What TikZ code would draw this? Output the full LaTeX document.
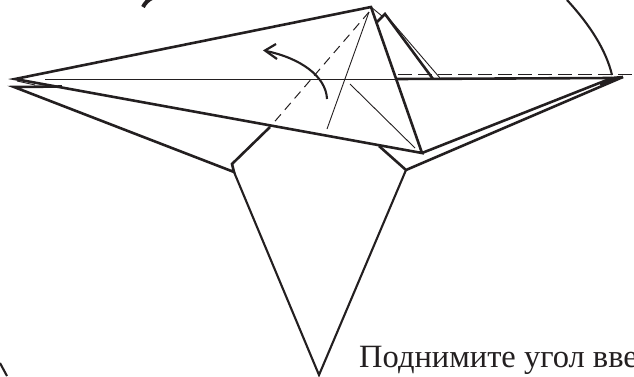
\documentclass[tikz,border=0pt]{standalone}
\usepackage{fontspec}
\setmainfont{Liberation Serif}
\definecolor{ink}{HTML}{231F20}
\tikzset{
  thick line/.style={draw=ink,line width=2.6pt,line join=miter,line cap=butt},
  mid line/.style={draw=ink,line width=2.1pt},
  thin line/.style={draw=ink,line width=0.9pt},
  dash line/.style={draw=ink,line width=1pt,dash pattern=on 14pt off 6pt},
}
\begin{document}
\begin{tikzpicture}[x=1pt,y=-1pt]
\useasboundingbox (0,0) rectangle (634,376);
\clip (0,0) rectangle (634,376);
% thin creases
\draw[thin line] (45,79) -- (396,79);
\draw[thin line] (369,12) -- (327,129);
\draw[thin line] (350,84) -- (415,148);
\draw[thin line] (371,7) -- (382,16);
\draw[thin line] (385,14) -- (440,78);
% dashed
\draw[dash line,dash pattern=on 9pt off 6pt] (369,12) -- (270,127);
\draw[dash line] (398,74) -- (633,74);
% body
\draw[thick line] (15,79) -- (371,7) -- (422,153) -- cycle;
\draw[thin line] (17,81) -- (35,85);
\draw[thick line] (62,86.5) -- (14,87) -- (234,172) -- (232,164) -- (270,127);
\draw[mid line] (234,172) -- (319,375) -- (406,170);
\draw[thick line] (379,146) -- (406,170) -- (623,77) -- (600,84);
\draw[thick line] (422,153) -- (612,78);
\draw[thick line] (396,79) -- (612,78) -- (623,77);
% flap
\draw[thick line] (377,22) -- (385,14) -- (433,79);
% big arc
\draw[mid line] (567,0) .. controls (590,25) and (606,50) .. (612,75);
% corner arcs and marks
\draw[draw=ink,line width=4pt] (143,7) .. controls (145,3) and (148,0) .. (152,-2);
\draw[mid line] (0,363) -- (7,376);
% arrow
\draw[draw=ink,line width=2.1pt] (327,99) .. controls (326,76) and (300,58) .. (266,51);
\draw[draw=ink,line width=2.2pt,line cap=butt,line join=miter] (276,44) -- (265,50.5) -- (277,59);
\node[anchor=base west,inner sep=0pt,text=ink,font=\fontsize{32.5}{35}\selectfont] (caption) at (359,367) {Поднимите угол вве};
\end{tikzpicture}
\end{document}
